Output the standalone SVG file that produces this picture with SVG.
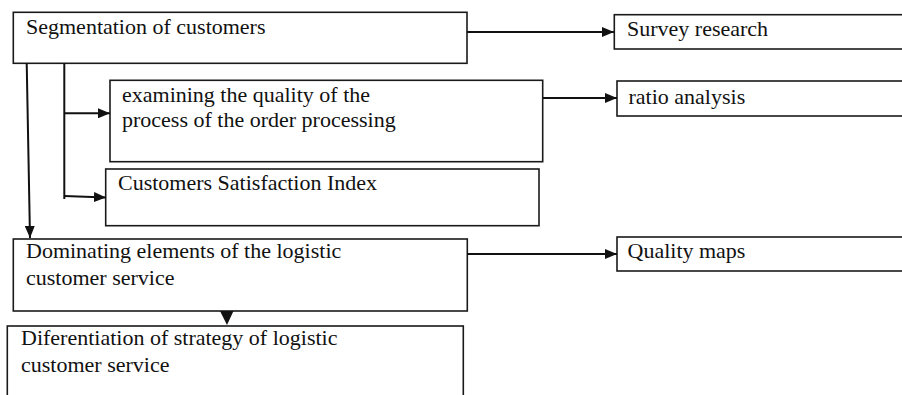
<svg xmlns="http://www.w3.org/2000/svg" width="902" height="395" viewBox="0 0 902 395">
  <style>
    .box { fill: #ffffff; stroke: #1a1a1a; stroke-width: 1.6; }
    .lbl { font-family: "Liberation Serif", "Times New Roman", serif; font-size: 22px; fill: #111111; }
    .wire { fill: none; stroke: #111111; stroke-width: 2; }
    .head { fill: #111111; stroke: none; }
  </style>
  <defs>
    <marker id="arrow" viewBox="0 0 12 10" refX="12" refY="5" markerWidth="12" markerHeight="10" markerUnits="userSpaceOnUse" orient="auto">
      <path d="M0,0 L12,5 L0,10 Z" class="head"/>
    </marker>
  </defs>
  <rect width="902" height="395" fill="#ffffff"/>

  <g id="segmentation">
    <rect class="box" x="13.3" y="12.3" width="453.7" height="51"/>
    <text class="lbl" x="26" y="34">Segmentation of customers</text>
  </g>
  <g id="survey">
    <rect class="box" x="614.3" y="14.7" width="300" height="34.3"/>
    <text class="lbl" x="627" y="36">Survey research</text>
  </g>
  <g id="examining">
    <rect class="box" x="110" y="80.3" width="432.7" height="81.4"/>
    <text class="lbl" x="122" y="102">examining the quality of the</text>
    <text class="lbl" x="122" y="127">process of the order processing</text>
  </g>
  <g id="ratio">
    <rect class="box" x="617" y="81" width="300" height="35"/>
    <text class="lbl" x="628.5" y="104">ratio analysis</text>
  </g>
  <g id="csi">
    <rect class="box" x="105.7" y="169" width="433.3" height="56.7"/>
    <text class="lbl" x="118" y="190">Customers Satisfaction Index</text>
  </g>
  <g id="dominating">
    <rect class="box" x="13.3" y="239" width="454" height="72"/>
    <text class="lbl" x="26" y="258">Dominating elements of the logistic</text>
    <text class="lbl" x="26" y="285">customer service</text>
  </g>
  <g id="quality">
    <rect class="box" x="617" y="237" width="300" height="34"/>
    <text class="lbl" x="627.5" y="258">Quality maps</text>
  </g>
  <g id="differentiation">
    <rect class="box" x="7.3" y="326" width="456" height="80"/>
    <text class="lbl" x="21" y="345">Diferentiation of strategy of logistic</text>
    <text class="lbl" x="21" y="372">customer service</text>
  </g>

  <g id="connectors">
    <line class="wire" x1="467" y1="32" x2="614" y2="32" marker-end="url(#arrow)"/>
    <line class="wire" x1="543" y1="98" x2="617" y2="98" marker-end="url(#arrow)"/>
    <line class="wire" x1="467" y1="254" x2="617" y2="254" marker-end="url(#arrow)"/>
    <line class="wire" x1="26.7" y1="63" x2="30" y2="238" marker-end="url(#arrow)"/>
    <line class="wire" x1="64.3" y1="63" x2="64.3" y2="199"/>
    <line class="wire" x1="64.3" y1="113.3" x2="110" y2="113.3" marker-end="url(#arrow)"/>
    <line class="wire" x1="64.3" y1="196" x2="106" y2="197.5" marker-end="url(#arrow)"/>
    <path class="head" d="M220,311 L233.5,311 L227,325 Z"/>
  </g>
</svg>
